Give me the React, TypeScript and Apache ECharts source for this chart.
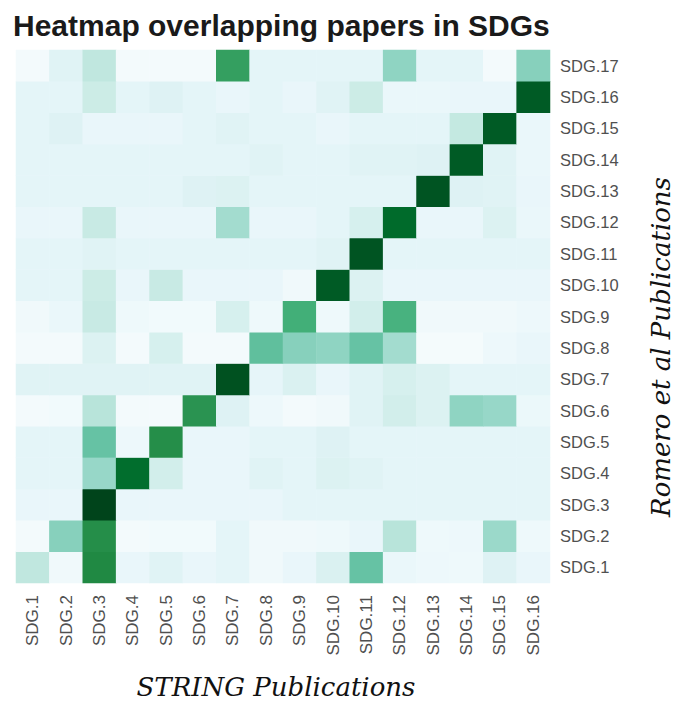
import React, { useEffect, useRef } from "react";
import * as echarts from "echarts";

// Axis categories
const stringCols = [
  "SDG.1", "SDG.2", "SDG.3", "SDG.4", "SDG.5", "SDG.6", "SDG.7", "SDG.8",
  "SDG.9", "SDG.10", "SDG.11", "SDG.12", "SDG.13", "SDG.14", "SDG.15", "SDG.16",
];
const romeroRows = [
  "SDG.1", "SDG.2", "SDG.3", "SDG.4", "SDG.5", "SDG.6", "SDG.7", "SDG.8", "SDG.9",
  "SDG.10", "SDG.11", "SDG.12", "SDG.13", "SDG.14", "SDG.15", "SDG.16", "SDG.17",
];

// Overlap intensity (0-100) per Romero et al row, across STRING columns SDG.1..SDG.16
const row1 = [28, 5, 76, 10, 15, 10, 13, 5, 10, 18, 50, 9, 7, 6, 16, 10];
const row2 = [3, 42, 74, 3, 4, 4, 13, 5, 5, 6, 10, 30, 6, 7, 37, 6];
const row3 = [10, 10, 100, 10, 10, 10, 10, 10, 13, 13, 13, 13, 13, 13, 13, 13];
const row4 = [13, 13, 38, 87, 22, 10, 10, 15, 13, 17, 15, 13, 13, 13, 13, 13];
const row5 = [13, 13, 50, 7, 74, 10, 10, 13, 13, 16, 13, 13, 13, 13, 13, 13];
const row6 = [3, 4, 30, 3, 3, 72, 16, 7, 3, 5, 15, 22, 17, 40, 38, 8];
const row7 = [15, 15, 15, 15, 15, 15, 96, 12, 18, 10, 15, 20, 17, 13, 13, 13];
const row8 = [3, 3, 17, 3, 20, 3, 3, 52, 42, 40, 50, 35, 2, 2, 7, 10];
const row9 = [5, 9, 26, 6, 4, 4, 20, 6, 62, 6, 22, 60, 5, 5, 5, 7];
const row10 = [13, 13, 25, 10, 26, 10, 10, 10, 5, 93, 17, 10, 10, 10, 10, 10];
const row11 = [13, 13, 15, 13, 13, 13, 13, 13, 13, 15, 95, 13, 13, 13, 13, 13];
const row12 = [10, 10, 26, 10, 10, 10, 35, 10, 10, 13, 20, 88, 10, 10, 17, 9];
const row13 = [13, 13, 13, 13, 13, 16, 17, 13, 13, 13, 13, 13, 95, 16, 15, 10];
const row14 = [13, 13, 13, 13, 13, 13, 13, 15, 13, 13, 15, 15, 16, 93, 15, 9];
const row15 = [13, 16, 10, 10, 10, 13, 15, 13, 13, 10, 13, 13, 13, 27, 93, 9];
const row16 = [13, 13, 25, 13, 16, 13, 10, 13, 10, 15, 25, 9, 9, 10, 10, 93];
const row17 = [3, 15, 28, 3, 3, 3, 68, 13, 13, 13, 13, 40, 13, 13, 3, 42];

const rows = [row1, row2, row3, row4, row5, row6, row7, row8, row9, row10,
  row11, row12, row13, row14, row15, row16, row17];

// Blue-green sequential palette
const bugn = ["#f7fcfd", "#e5f5f9", "#ccece6", "#99d8c9", "#66c2a4", "#41ae76", "#238b45", "#006d2c", "#00441b"];

export default function App() {
  const ref = useRef<HTMLDivElement>(null);

  useEffect(() => {
    if (!ref.current) return;
    const chart = echarts.init(ref.current, null, { renderer: "svg" });

    const cells: number[][] = [];
    rows.forEach((vals, r) => vals.forEach((v, c) => cells.push([c, r, v])));

    chart.setOption({
      animation: false,
      backgroundColor: "#ffffff",
      grid: { left: 16, top: 50, width: 534, height: 533, containLabel: false },
      xAxis: {
        type: "category",
        data: stringCols,
        position: "bottom",
        axisLine: { show: false },
        axisTick: { show: false },
        splitLine: { show: false },
        axisLabel: {
          rotate: 90,
          margin: 12,
          fontSize: 17,
          color: "#505050",
          fontFamily: "Liberation Sans, Arial, sans-serif",
        },
      },
      yAxis: {
        type: "category",
        data: romeroRows,
        position: "right",
        axisLine: { show: false },
        axisTick: { show: false },
        splitLine: { show: false },
        axisLabel: {
          margin: 10,
          fontSize: 16.5,
          color: "#505050",
          fontFamily: "Liberation Sans, Arial, sans-serif",
        },
      },
      visualMap: {
        show: false,
        type: "continuous",
        min: 0,
        max: 100,
        dimension: 2,
        inRange: { color: bugn },
      },
      series: [
        {
          type: "heatmap",
          data: cells,
          itemStyle: { borderWidth: 0 },
          emphasis: { disabled: true },
        },
      ],
      graphic: [
        {
          type: "text",
          left: 13,
          top: 10,
          style: {
            text: "Heatmap overlapping papers in SDGs",
            font: "bold 30px 'Liberation Sans', Arial, sans-serif",
            fill: "#1a1a1a",
          },
        },
        {
          type: "text",
          x: 276,
          y: 687,
          style: {
            text: "STRING Publications",
            font: "italic 26px 'DejaVu Serif', serif",
            fill: "#111111",
            align: "center",
            verticalAlign: "middle",
          },
        },
        {
          type: "text",
          x: 661,
          y: 347,
          rotation: Math.PI / 2,
          style: {
            text: "Romero et al Publications",
            font: "italic 26px 'DejaVu Serif', serif",
            fill: "#111111",
            align: "center",
            verticalAlign: "middle",
          },
        },
      ],
    });

    return () => chart.dispose();
  }, []);

  return (
    <div
      ref={ref}
      style={{ position: "fixed", left: 0, top: 0, width: 676, height: 702, background: "#ffffff" }}
    />
  );
}
